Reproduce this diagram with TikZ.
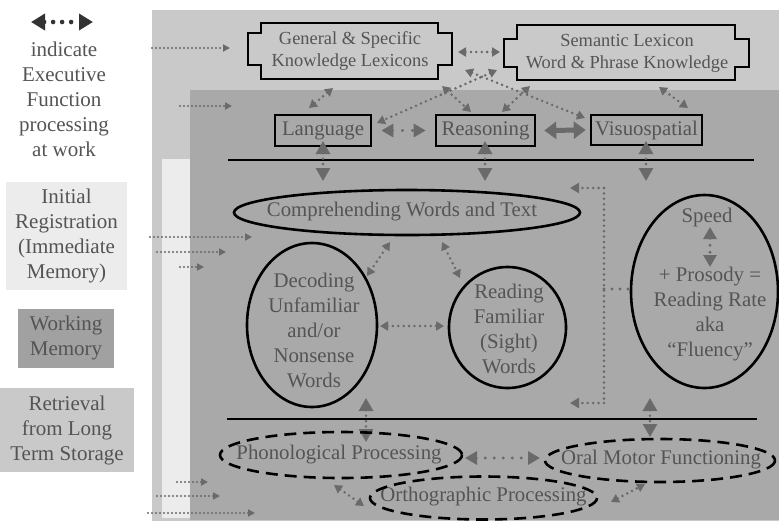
\documentclass[tikz,border=0pt]{standalone}
\usepackage{fontspec}
\setmainfont{Liberation Serif}
\usetikzlibrary{arrows.meta}
\definecolor{bgA}{HTML}{C9C9C9}
\definecolor{bgB}{HTML}{A9A9A9}
\definecolor{bgC}{HTML}{ECECEC}
\definecolor{txt}{HTML}{545454}
\definecolor{arr}{HTML}{6A6A6A}
\tikzset{
  lbl/.style={text=txt, align=center, inner sep=0pt, font=\fontsize{20.8}{25}\selectfont},
  lex/.style={text=txt, align=center, inner sep=0pt, font=\fontsize{18.4}{22}\selectfont},
  leg/.style={text=txt, align=center, inner sep=0pt, font=\fontsize{21}{25}\selectfont},
  sbox/.style={draw=black, line width=2.6pt, text=txt, inner sep=0pt, font=\fontsize{20.8}{25}\selectfont},
  shp/.style={draw=black, line width=2.6pt},
  dsh/.style={draw=black, line width=2.6pt, dash pattern=on 12pt off 7pt},
  rule/.style={draw=black, line width=2pt},
  dots/.style={draw=arr, line width=2.8pt, line cap=round, dash pattern=on 0pt off 5.4pt},
  ef/.style={dots, {Triangle[length=8pt,width=9pt]}-{Triangle[length=8pt,width=9pt]}},
  efbig/.style={dots, {Triangle[length=13pt,width=14pt]}-{Triangle[length=13pt,width=14pt]}},
  efmid/.style={dots, dash pattern=on 0pt off 7pt, line width=3.2pt, {Triangle[length=12pt,width=13pt]}-{Triangle[length=12pt,width=13pt]}},
  inarr/.style={draw=arr, line width=2.1pt, line cap=round, dash pattern=on 0pt off 4pt, -{Triangle[length=7pt,width=7pt]}},
  onearr/.style={dots, -{Triangle[length=9pt,width=10pt]}},
}
\begin{document}
\begin{tikzpicture}[x=1pt,y=-1pt]
\useasboundingbox (0,0) rectangle (779,523);
% backgrounds
\fill[bgA] (152,10) rectangle (779,521);
\fill[bgB] (190,90) rectangle (779,520);
\fill[bgC] (162,159) rectangle (190,518);

% legend
\coordinate (la) at (31,22);
\coordinate (lb) at (93,22);
\draw[draw=black!80, line width=4.6pt, line cap=round, dash pattern=on 0pt off 9pt,
  {Triangle[length=14pt,width=16pt,fill=black!80]}-{Triangle[length=14pt,width=16pt,fill=black!80]}] (la) -- (lb);
\node[leg] (legtxt) at (64,99) {indicate\\Executive\\Function\\processing\\at work};
\node[leg, fill=bgC, minimum width=121pt, minimum height=108pt] (initial) at (66.5,236) {Initial\\Registration\\(Immediate\\Memory)};
\node[leg, fill=bgB!95!black, minimum width=96pt, minimum height=59pt] (working) at (66,338) {Working\\Memory};
\node[leg, fill=bgA, minimum width=134pt, minimum height=84pt] (retrieval) at (67,430) {Retrieval\\from Long\\Term Storage};

% incoming arrows
\draw[inarr] (152,48) -- (230,48);
\draw[inarr] (180,106) -- (232,106);
\draw[inarr] (150,237) -- (252,237);
\draw[inarr] (157,252) -- (226,252);
\draw[inarr] (180,267) -- (204,267);
\draw[inarr] (177,482) -- (208,482);
\draw[inarr] (157,496) -- (220,496);
\draw[inarr] (148,513) -- (255,513);

% lexicon boxes
\draw[shp] (261,23) -- (438,23) -- (438,33) -- (452,33) -- (452,65) -- (438,65) -- (438,79) -- (261,79) -- (261,65) -- (248,65) -- (248,33) -- (261,33) -- cycle;
\node[lex] (gen) at (350,51) {General \& Specific\\Knowledge Lexicons};
\draw[shp] (517,25) -- (735,25) -- (735,39) -- (749,39) -- (749,67) -- (735,67) -- (735,80) -- (517,80) -- (517,67) -- (504,67) -- (504,39) -- (517,39) -- cycle;
\node[lex] (sem) at (627,53.5) {Semantic Lexicon\\Word \& Phrase Knowledge};

% boxes
\node[sbox, minimum width=96pt, minimum height=31pt] (lang) at (323,130.5) {Language};
\node[sbox, minimum width=99pt, minimum height=31pt] (reas) at (485.5,130.5) {Reasoning};
\node[sbox, minimum width=111pt, minimum height=30pt] (vis) at (646.5,130) {Visuospatial};

% top connectors
\draw[ef] (458,52) -- (500,52);
\draw[ef] (333,88) -- (309,108);
\draw[ef] (442,86) -- (471,112);
\draw[ef] (465,70) -- (585,118);
\draw[ef] (497,70) -- (377,123);
\draw[ef] (530,86) -- (502,112);
\draw[ef] (659,87) -- (688,108);
\draw[efmid, dash pattern=on 0pt off 10pt] ([xshift=9pt]lang.east) -- ([xshift=-9pt]reas.west);
\draw[draw=arr, line width=5pt, {Triangle[length=12pt,width=17pt]}-{Triangle[length=12pt,width=17pt]}] ([xshift=8pt]reas.east) -- ([xshift=-4pt]vis.west);

% rule 1
\draw[rule] (228,160) -- (754,160);
\draw[efbig] (323,141) -- (323,181);
\draw[efbig] (485,141) -- (485,181);
\draw[efbig] (646,141) -- (646,181);

% comprehension
\node[lbl] (comp) at (402,212) {Comprehending Words and Text};
\draw[shp] (407,212.5) ellipse [x radius=173, y radius=22.5];

% decoding
\node[lbl] (dec) at (314,330.5) {Decoding\\Unfamiliar\\and/or\\Nonsense\\Words};
\draw[shp] (312,325) ellipse [x radius=65, y radius=82];

% reading
\node[lbl] (read) at (509,329) {Reading\\Familiar\\(Sight)\\Words};
\draw[shp] (507.5,327.5) ellipse [x radius=58.5, y radius=60.5];

% speed
\node[lbl] (speed) at (707,217) {Speed};
\node[lbl] (rate) at (710,314) {+ Prosody =\\Reading Rate\\aka\\“Fluency”};
\draw[shp] (704.5,291.5) ellipse [x radius=73.5, y radius=96.5];
\draw[efmid] (710,227) -- (710,267);

\draw[ef] (390,242) -- (367,276);
\draw[ef] (442,242) -- (460,278);
\draw[ef] (380,326) -- (444,326);

% bracket
\coordinate (bt) at (604,188);
\coordinate (bb) at (604,403);
\coordinate (bm) at (604,289);
\draw[dots] (bt) -- (bb);
\draw[onearr] (bt) -- (570,188);
\draw[onearr] (bb) -- (570,403);
\draw[dots, line width=3.4pt, dash pattern=on 0pt off 8pt] (bm) -- (630,289);

% rule 2
\draw[rule] (227,419) -- (757,419);
\draw[efbig] (366,398) -- (366,442);
\draw[efbig] (650,398) -- (650,437);

% bottom ellipses
\node[lbl] (orth) at (483.5,497) {Orthographic Processing};
\draw[dsh] (483.5,498) ellipse [x radius=113.5, y radius=21.5];
\node[lbl] (phon) at (339,455) {Phonological Processing};
\draw[dsh] (341,455) ellipse [x radius=121, y radius=23];
\node[lbl] (oral) at (661,460) {Oral Motor Functioning};
\draw[dsh] (660,460.5) ellipse [x radius=115, y radius=21.5];

\draw[efmid, dash pattern=on 0pt off 9pt] (465,458) -- (540,458);
\draw[ef] (334,485) -- (364,506);
\draw[ef] (611,502) -- (645,484);
\end{tikzpicture}
\end{document}
